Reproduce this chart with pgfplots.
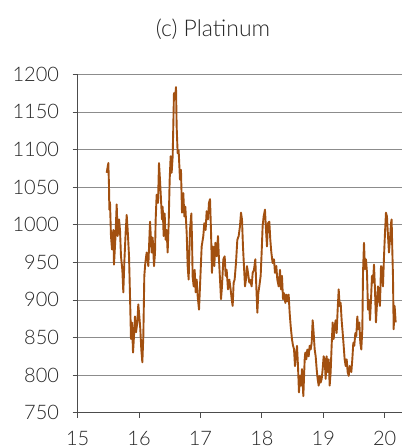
\documentclass[border=0pt]{standalone}
\usepackage{pgfplots}
\pgfplotsset{compat=1.18}
\usepackage{fontspec}
\setmainfont{Lato Light}
\definecolor{ptcol}{RGB}{162,80,16}
\begin{document}
\begin{tikzpicture}
\path[use as bounding box] (0pt,0pt) rectangle (402pt,-448pt);
\node[font=\fontsize{23}{23}\selectfont, text=black!85, anchor=base] at (213pt,-36.3pt) {(c) Platinum};
\begin{axis}[at={(77.7pt,-412.7pt)}, anchor=south west, scale only axis,
  width=324.3pt, height=338.4pt,
  xmin=15, xmax=20.282, ymin=750, ymax=1200,
  xtick={15,16,17,18,19,20}, ytick={750,800,...,1200},
  axis x line=bottom, axis y line=left, axis line style={-, black!70, line width=0.8pt},
  tick align=outside, major tick length=5pt, tick style={black!70, line width=0.8pt},
  ymajorgrids, grid style={black!45, line width=0.8pt},
  ticklabel style={font=\fontsize{20}{20}\selectfont, text=black!85, inner sep=0pt},
  yticklabel shift=13.5pt, xticklabel shift=13pt,
  clip=false,
  /pgf/number format/.cd, assume math mode=true, 1000 sep={}]
\addplot[color=ptcol, line width=1.9pt, line join=round, mark=none] coordinates {
(15.472,1069)(15.499,1082)(15.510,1051)(15.515,1020)(15.526,1030)(15.542,985)(15.559,967)
(15.580,993)(15.591,947)(15.613,980)(15.635,1027)(15.651,985)(15.673,1007)(15.689,993)
(15.705,958)(15.727,940)(15.743,910)(15.759,949)(15.781,990)(15.798,1013)(15.814,993)
(15.836,958)(15.852,905)(15.868,848)(15.884,870)(15.901,830)(15.917,852)(15.933,878)
(15.950,857)(15.971,870)(15.987,894)(16.004,878)(16.020,861)(16.036,834)(16.053,817)
(16.069,852)(16.085,932)(16.101,949)(16.123,963)(16.150,945)(16.178,1004)
(16.205,963)(16.221,983)(16.243,945)(16.259,962)(16.270,1007)(16.286,1040)(16.308,1029)
(16.324,1082)(16.340,1060)(16.357,1033)(16.373,1007)(16.384,1024)(16.400,985)(16.416,1015)
(16.433,980)(16.449,993)(16.465,963)(16.482,1002)(16.498,1060)(16.514,1091)(16.530,1069)
(16.547,1091)(16.558,1135)(16.568,1175)(16.585,1167)(16.601,1183)(16.612,1130)(16.628,1095)
(16.644,1099)(16.666,1060)(16.682,1073)(16.699,1016)(16.720,1042)(16.737,1011)(16.753,1024)
(16.775,989)(16.791,945)(16.807,927)(16.829,993)(16.851,1015)(16.862,980)(16.872,931)
(16.889,918)(16.905,940)(16.921,910)(16.938,927)(16.954,905)(16.976,887)(16.992,918)
(17.019,971)(17.046,985)(17.062,1002)(17.084,993)(17.100,1018)(17.122,1007)(17.138,1029)
(17.155,1034)(17.171,993)(17.187,936)(17.204,971)(17.225,945)(17.242,976)(17.263,958)
(17.285,985)(17.301,954)(17.318,927)(17.334,901)(17.350,918)(17.372,954)(17.394,958)
(17.410,932)(17.426,940)(17.448,914)(17.470,927)(17.491,914)(17.508,901)(17.524,892)
(17.540,923)(17.556,927)(17.578,949)(17.600,980)(17.622,985)(17.643,998)(17.660,1016)
(17.676,1007)(17.692,971)(17.708,945)(17.725,918)(17.741,927)(17.757,945)(17.774,936)
(17.795,923)(17.806,927)(17.833,918)(17.850,936)(17.871,940)(17.893,954)(17.909,918)
(17.926,883)(17.942,909)(17.958,918)(17.980,932)(17.996,963)(18.012,998)(18.029,1011)
(18.050,1020)(18.067,993)(18.083,971)(18.099,1002)(18.121,1004)(18.137,980)(18.154,963)
(18.175,949)(18.197,954)(18.213,936)(18.235,945)(18.251,927)(18.273,918)(18.295,940)
(18.311,914)(18.327,932)(18.344,901)(18.360,909)(18.382,896)(18.398,907)(18.414,898)
(18.436,907)(18.452,883)(18.469,865)(18.490,848)(18.507,839)(18.523,835)(18.539,812)
(18.555,825)(18.572,839)(18.588,812)(18.604,777)(18.621,799)(18.637,786)(18.653,808)
(18.675,772)(18.697,821)
(18.707,830)(18.724,821)(18.740,834)(18.762,825)(18.778,839)(18.794,834)(18.811,843)
(18.827,873)(18.843,856)(18.860,834)(18.876,825)(18.892,808)(18.908,795)(18.925,786)
(18.941,799)(18.957,790)(18.974,795)(18.990,808)(19.006,825)(19.022,821)(19.039,795)
(19.055,825)(19.071,804)(19.088,821)(19.104,786)(19.120,804)(19.136,839)(19.153,870)
(19.169,848)(19.185,865)(19.202,873)(19.218,856)(19.234,887)(19.251,914)(19.267,892)
(19.283,896)(19.299,873)(19.316,856)(19.332,839)(19.348,821)(19.365,812)(19.381,821)
(19.397,804)(19.414,799)(19.430,812)
(19.457,804)(19.473,821)(19.489,843)(19.505,839)(19.522,856)(19.538,852)(19.554,878)
(19.571,861)(19.587,870)(19.603,843)(19.619,834)(19.636,861)(19.647,936)(19.663,976)
(19.679,941)(19.695,954)(19.712,936)(19.728,887)(19.744,900)(19.761,873)(19.777,900)
(19.793,932)(19.809,923)(19.826,947)(19.842,914)(19.858,870)(19.875,896)(19.891,918)
(19.907,900)(19.923,892)(19.940,945)(19.956,941)(19.972,918)(19.989,958)(20.005,989)
(20.021,1016)(20.037,1011)(20.054,985)(20.070,963)(20.086,980)(20.103,1002)(20.113,1007)
(20.124,967)(20.135,932)(20.146,861)(20.162,892)(20.179,870)
};
\end{axis}
\end{tikzpicture}
\end{document}
